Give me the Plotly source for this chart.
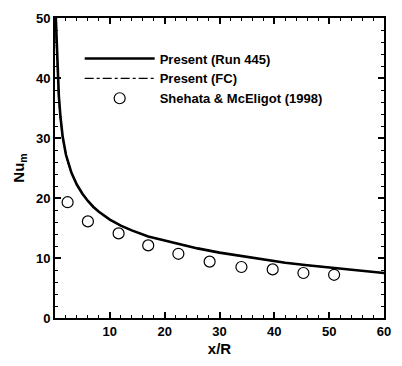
import plotly.graph_objects as go

# Mean Nusselt number along the heated pipe (x/R)
run445_x = [0.15, 0.3, 0.5, 0.7, 1.0, 1.4, 2.0, 2.5, 3.0, 4.0, 5.0, 6.0, 7.0, 8.0,
            10.0, 12.0, 14.0, 17.0, 20.0, 23.0, 26.0, 30.0, 34.0, 38.0, 42.0,
            46.0, 50.0, 55.0, 60.0]
run445_nu = [50.0, 46.0, 41.0, 37.0, 33.5, 30.2, 27.2, 25.5, 24.2, 22.2, 20.7,
             19.5, 18.5, 17.7, 16.4, 15.4, 14.6, 13.6, 12.9, 12.2, 11.6, 10.9,
             10.3, 9.8, 9.2, 8.8, 8.4, 7.9, 7.5]

fc_x = [0.15, 0.3, 0.5, 0.7, 1.0, 1.4, 2.0, 2.5, 3.0, 4.0, 5.0, 6.0, 7.0, 8.0,
        10.0, 12.0, 14.0, 17.0, 20.0, 23.0, 26.0, 30.0, 34.0, 38.0, 42.0,
        46.0, 50.0, 55.0, 60.0]
fc_nu = [47.5, 44.0, 39.8, 36.3, 33.0, 30.0, 27.1, 25.4, 24.2, 22.2, 20.7,
         19.5, 18.5, 17.7, 16.4, 15.4, 14.6, 13.6, 12.9, 12.2, 11.6, 10.9,
         10.3, 9.8, 9.2, 8.8, 8.4, 7.9, 7.5]

exp_x = [2.3, 6.0, 11.6, 17.0, 22.5, 28.2, 34.0, 39.7, 45.3, 50.9]
exp_nu = [19.3, 16.1, 14.1, 12.1, 10.7, 9.4, 8.5, 8.1, 7.5, 7.2]

x_ticks = [10, 20, 30, 40, 50, 60]
y_ticks = [0, 10, 20, 30, 40, 50]

font = "Liberation Sans, Arial, sans-serif"

fig = go.Figure()
fig.add_trace(go.Scatter(
    x=run445_x, y=run445_nu, mode="lines", name="Present (Run 445)",
    line=dict(color="black", width=2.6)))
fig.add_trace(go.Scatter(
    x=fc_x, y=fc_nu, mode="lines", name="Present (FC)",
    line=dict(color="black", width=1.2, dash="dashdot")))
fig.add_trace(go.Scatter(
    x=exp_x, y=exp_nu, mode="markers", name="Shehata & McEligot (1998)",
    marker=dict(symbol="circle-open", size=11, color="black", line=dict(width=1.2))))

axis_common = dict(
    showgrid=False, zeroline=False, showline=True, linecolor="black", linewidth=2,
    ticks="inside", ticklen=6, tickwidth=1.5, tickcolor="black", mirror="allticks",
    tickfont=dict(family=font, size=13, color="black", weight="bold"),
)

fig.update_xaxes(
    range=[0, 60], tickvals=x_ticks,
    minor=dict(dtick=2, ticks="inside", ticklen=3, tickcolor="black", tickwidth=1),
    title=dict(text="<b>x/R</b>", font=dict(family=font, size=15, color="black"), standoff=6),
    **axis_common)
fig.update_yaxes(
    range=[0, 50], tickvals=y_ticks,
    minor=dict(dtick=2, ticks="inside", ticklen=3, tickcolor="black", tickwidth=1),
    title=dict(text="<b>Nu<sub>m</sub></b>", font=dict(family=font, size=15, color="black"), standoff=8),
    **axis_common)

fig.update_layout(
    width=402, height=366,
    margin=dict(l=55, r=11, t=12, b=42),
    paper_bgcolor="white", plot_bgcolor="white",
    showlegend=True,
    legend=dict(
        x=0.075, y=0.915, xanchor="left", yanchor="top",
        bgcolor="rgba(0,0,0,0)", borderwidth=0, itemwidth=70,
        tracegroupgap=0,
        font=dict(family=font, size=13, color="black", weight="bold")),
)

fig.write_html("out.html")
